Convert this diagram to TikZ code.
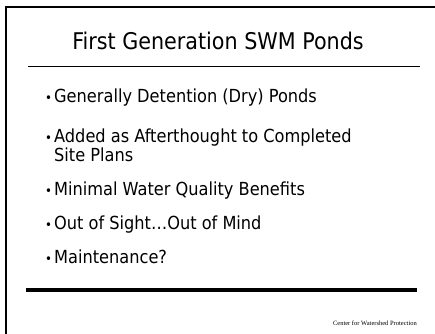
\documentclass[tikz,border=0pt]{standalone}
\usepackage{fontspec}
\setmainfont{DejaVu Sans Condensed}
\newfontfamily\footfont{Liberation Serif}
\begin{document}
\begin{tikzpicture}[x=1pt,y=-1pt,
  frameline/.style={line width=2.2pt,line cap=rect,line join=miter},
  titlefont/.style={font=\fontsize{23}{23}\selectfont},
  bodyfont/.style={font=\fontsize{18}{18}\selectfont},
  dot/.style={font=\fontsize{13}{13}\selectfont,inner sep=0pt,anchor=base west},
  item/.style={bodyfont,inner sep=0pt,anchor=base west,align=left}]
\useasboundingbox (0,0) rectangle (435,333);
% slide frame: top and left edges
\draw[frameline] (436,7) -- (6,7) -- (6,334);
% title and rules
\node[titlefont,inner sep=0pt,anchor=base] (title) at (218,49) {First Generation SWM Ponds};
\coordinate (tl) at (28,66.5);
\coordinate (tr) at (420,66.5);
\draw[line width=1.3pt] (tl) -- (tr);
\coordinate (bl) at (26,290);
\coordinate (br) at (417,290);
\draw[line width=4pt] (bl) -- (br);
% bullet list
\foreach \n/\y/\t in {a/102/{Generally Detention (Dry) Ponds},
                      b/142/{Added as Afterthought to Completed},
                      c/195/{Minimal Water Quality Benefits},
                      d/229/{Out of Sight\dots Out of Mind},
                      e/263/{Maintenance?}}{
  \node[dot] (d\n) at (45,\y) {•};
  \node[item] (i\n) at (54,\y) {\t};
}
\node[item] (ib2) at (54,161) {Site Plans};
% footer
\node[inner sep=0pt,anchor=base east,font=\footfont\fontsize{6.5}{6.5}\selectfont] (foot) at (417,325) {Center for Watershed Protection};
\end{tikzpicture}
\end{document}
